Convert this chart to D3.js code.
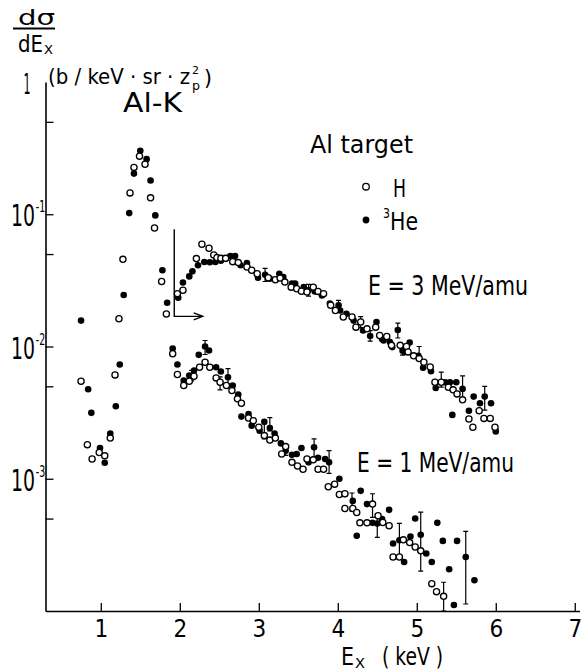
<!DOCTYPE html>
<html><head><meta charset="utf-8">
<script src="https://cdn.jsdelivr.net/npm/d3@7"></script>
<style>body{margin:0;background:#fff}svg{display:block}</style>
</head><body>
<svg id="chart" width="581" height="671"></svg>
<script>
// ---------- data (E in keV, cross section in b/keV·sr·zp²) ----------
const xTicks = [1, 2, 3, 4, 5, 6, 7];
const yMajor = [1, 1e-1, 1e-2, 1e-3];
const yMajorExp = ["", "-1", "-2", "-3"];
const yMinor = [0.5, 0.05, 0.005, 0.0005];

// H projectiles, E = 3 MeV/amu (open circles), incl. Al-K peak
const h3MeV = [[1.49,0.275],[1.56,0.239],[1.42,0.226],[1.37,0.145],[1.63,0.133],[1.68,0.0787],[1.28,0.0456],[1.77,0.031],[1.83,0.0176],[1.23,0.0162],
[1.97,0.0251],[2.04,0.0266],[2.21,0.0462],[2.28,0.0593],[2.37,0.0553],[2.43,0.0492],[2.47,0.0470],[2.52,0.0464],[2.58,0.0464],[2.67,0.0438],[2.74,0.0431],[2.85,0.0399],[2.91,0.0377],[2.98,0.0355],[3.12,0.0331],[3.21,0.0320],[3.27,0.0329],[3.33,0.0307],[3.41,0.0281],[3.48,0.0273],[3.54,0.0262],[3.61,0.0258],[3.69,0.0281],[3.75,0.0261],[3.82,0.0251],[3.91,0.0205],[3.97,0.0187],[4.07,0.0167],[4.18,0.0167],[4.23,0.0140],[4.29,0.0153],[4.37,0.0136],[4.48,0.0140],[4.53,0.0121],[4.62,0.0119],[4.68,0.0102],[4.79,0.0102],[4.87,0.0100],[4.89,0.0091],[4.96,0.0085],[5.03,0.0081],[5.09,0.0076],[5.17,0.0070],[5.23,0.00537],[5.31,0.00537],[5.40,0.00492],[5.46,0.00470],[5.51,0.00438],[5.58,0.00395],[5.79,0.00327],[5.66,0.00283],[5.71,0.00245],[5.85,0.00286],[5.93,0.00286],[5.99,0.00245]];

// 3He projectiles, E = 3 MeV/amu (filled circles), incl. Al-K peak
const he3MeV = [[1.50,0.302],[1.58,0.261],[1.42,0.203],[1.63,0.180],[1.36,0.102],[1.69,0.098],[1.78,0.0377],[1.29,0.0245],[1.84,0.0214],[0.75,0.0157],
[1.98,0.0234],[2.04,0.0305],[2.12,0.0339],[2.16,0.0370],[2.23,0.0411],[2.31,0.0435],[2.38,0.0433],[2.45,0.0435],[2.52,0.0445],[2.58,0.0460],[2.64,0.0483],[2.70,0.0483],[2.77,0.0411],[2.85,0.0428],[2.99,0.0331],[3.08,0.0349],[3.14,0.0326],[3.26,0.0355],[3.31,0.0335],[3.42,0.0299],[3.46,0.0299],[3.57,0.0281],[3.63,0.0266],[3.71,0.0261],[3.80,0.0243],[3.90,0.0211],[4.01,0.0205],[4.03,0.0187],[4.11,0.0177],[4.20,0.0157],[4.32,0.0132],[4.41,0.0120],[4.49,0.0153],[4.56,0.0114],[4.58,0.0111],[4.66,0.0108],[4.69,0.0099],[4.76,0.0133],[4.82,0.0093],[4.85,0.0091],[4.91,0.0107],[5.02,0.0085],[5.08,0.0069],[5.18,0.0065],[5.24,0.00486],[5.36,0.00537],[5.42,0.00537],[5.50,0.00537],[5.58,0.00478],[5.72,0.00418],[5.80,0.00372],[5.86,0.00418],[5.94,0.00372],[5.45,0.00304],[5.66,0.00327],[6.00,0.00228]];

// H projectiles, E = 1 MeV/amu (open circles)
const h1MeV = [[1.91,0.00881],[1.18,0.0061],[1.97,0.00614],[0.75,0.00546],[1.12,0.00203],[0.83,0.00181],[0.98,0.00158],[0.89,0.00141],[1.05,0.00149],
[2.05,0.00507],[2.12,0.00546],[2.18,0.00596],[2.25,0.00697],[2.32,0.00760],[2.38,0.00697],[2.46,0.00579],[2.51,0.00537],[2.59,0.00507],[2.66,0.00464],[2.73,0.00402],[2.78,0.00372],[2.87,0.00288],[2.93,0.00275],[3.00,0.00245],[3.07,0.00212],[3.14,0.00196],[3.21,0.00203],[3.29,0.00154],[3.34,0.00175],[3.42,0.00133],[3.49,0.00125],[3.56,0.00118],[3.61,0.00141],[3.69,0.00139],[3.75,0.00118],[3.82,0.00118],[3.88,0.00087],[3.96,0.00091],[4.02,0.00076],[4.09,0.00077],[4.09,0.000596],[4.19,0.000596],[4.24,0.000556],[4.28,0.000464],[4.37,0.000464],[4.44,0.000643],[4.51,0.000525],[4.57,0.000467],[4.65,0.000441],[4.70,0.000256],[4.78,0.000256],[4.83,0.000345],[4.91,0.000329],[4.98,0.000305],[5.05,0.000285],[5.19,0.000161],[5.25,0.000140],[5.34,0.000129]];

// 3He projectiles, E = 1 MeV/amu (filled circles)
const he1MeV = [[1.91,0.00966],[1.24,0.00731],[1.97,0.00731],[0.84,0.00475],[1.19,0.00353],[0.88,0.00315],[1.12,0.0022],[0.99,0.00171],[1.05,0.00132],
[2.05,0.00552],[2.12,0.00603],[2.18,0.00658],[2.24,0.00865],[2.32,0.0100],[2.37,0.00933],[2.46,0.00697],[2.52,0.00647],[2.61,0.00585],[2.67,0.00507],[2.74,0.00433],[2.78,0.00295],[2.87,0.00309],[2.91,0.00252],[3.01,0.00231],[3.07,0.00270],[3.14,0.00242],[3.20,0.00220],[3.28,0.00185],[3.34,0.00163],[3.42,0.00152],[3.48,0.00154],[3.54,0.00171],[3.63,0.00133],[3.70,0.00173],[3.75,0.00144],[3.84,0.00141],[3.89,0.00133],[4.02,0.00100],[4.09,0.000766],[4.19,0.00068],[4.29,0.00081],[4.37,0.000643],[4.65,0.000582],[4.44,0.000464],[4.50,0.000458],[4.56,0.000495],[4.24,0.00037],[4.70,0.000324],[4.78,0.000343],[4.84,0.000235],[4.92,0.000366],[4.98,0.0005],[5.05,0.000377],[5.12,0.000272],[5.19,0.000235],[5.26,0.000464],[5.33,0.000339],[5.51,0.000339],[5.41,0.000207],[5.47,0.000111],[5.62,0.000256],[5.73,0.000171]];

// error bars [E, low, high]
const errBars3MeV = [[3.08,0.031,0.039],[3.63,0.024,0.0295],[4.01,0.0187,0.0223],[4.29,0.0139,0.0168],[4.41,0.011,0.0132],[4.76,0.0116,0.015],[4.82,0.0086,0.0102],[5.03,0.0081,0.0100],[5.31,0.00493,0.0064],[5.58,0.0039,0.0060],[5.86,0.0033,0.0050]];
const errBars1MeV = [[2.15,0.0055,0.0066],[2.32,0.0087,0.0111],[2.51,0.0047,0.0059],[2.61,0.0052,0.0068],[3.07,0.0020,0.0026],[3.14,0.0023,0.0029],[3.34,0.0015,0.0018],[3.70,0.00146,0.0020],[3.89,0.0011,0.00163],[4.18,0.00057,0.00078],[4.44,0.00051,0.00077],[4.50,0.00036,0.00054],[4.78,0.00025,0.00046],[5.05,0.00020,0.00056],[5.34,0.0001,0.000165],[5.62,0.000113,0.0004]];

// threshold arrow annotation [E, value] corners
const arrowPts = [[1.93,0.077],[1.93,0.0169],[2.29,0.0169]];

// ---------- drawing ----------
const FONT = "'Liberation Sans Narrow','DejaVu Sans Condensed','Liberation Sans',sans-serif";
const svg = d3.select("#chart");
svg.append("rect").attr("width",581).attr("height",671).attr("fill","#fff");

const x = d3.scaleLinear().domain([0.3, 7.06]).range([45.5, 579.5]);
const y = d3.scaleLog().domain([1e-4, 1]).range([611, 82]);

function txt(s, px, py, size, len, anchor){
  const t = svg.append("text").attr("x",px).attr("y",py).attr("font-family",FONT)
    .attr("font-size",size).attr("fill","#000").text(s);
  if (anchor) t.attr("text-anchor",anchor);
  if (len) t.attr("textLength",len).attr("lengthAdjust","spacingAndGlyphs");
  return t;
}
// text made of parts: [string, size, width, dy, dx]
function rich(px, py, parts){
  const t = svg.append("text").attr("x",px).attr("y",py).attr("font-family",FONT).attr("fill","#000");
  parts.forEach(p=>{
    const s = t.append("tspan").attr("font-size",p[1]).attr("textLength",p[2])
      .attr("lengthAdjust","spacingAndGlyphs").text(p[0]);
    if (p[3]) s.attr("dy",p[3]);
    if (p[4]) s.attr("dx",p[4]);
  });
  return t;
}

// x axis
const gx = svg.append("g").attr("transform","translate(0,611)")
  .call(d3.axisBottom(x).tickValues(xTicks).tickSize(-8).tickSizeOuter(0).tickPadding(9).tickFormat(d3.format("d")));
gx.select(".domain").attr("stroke-width",1.6);
gx.selectAll(".tick line").attr("stroke-width",1.3);
gx.selectAll(".tick text").attr("font-family",FONT).attr("font-size",24).attr("fill","#000");

// y axis
const gy = svg.append("g").attr("transform","translate(45.5,0)")
  .call(d3.axisLeft(y).tickValues(yMajor.slice(1).concat(yMinor)).tickSize(-8).tickSizeOuter(0).tickFormat(""));
gy.select(".domain").attr("stroke-width",1.6);
gy.selectAll(".tick line").attr("stroke-width",1.3);

// y tick labels (horizontally condensed with a transform)
yMajor.forEach((v,i)=>{
  if (i===0) { txt("1", 27, y(v)+12, 29, 7, "middle"); return; }
  const t = svg.append("text").attr("font-family",FONT).attr("fill","#000")
    .attr("transform",`translate(11,${y(v)+12}) scale(0.7,1)`);
  t.append("tspan").attr("font-size",30).text("10");
  t.append("tspan").attr("font-size",15).attr("dy",-14).attr("dx",1).text(yMajorExp[i]);
});

// error bars
const errG = svg.append("g").attr("stroke","#000").attr("stroke-width",1.2).attr("fill","none");
errBars3MeV.concat(errBars1MeV).forEach(d=>{
  const px = x(d[0]), y0 = y(d[1]), y1 = y(d[2]);
  errG.append("path").attr("d",`M${px},${y0}V${y1}M${px-2.5},${y0}H${px+2.5}M${px-2.5},${y1}H${px+2.5}`);
});

// markers
const filled = he3MeV.concat(he1MeV);
const open = h3MeV.concat(h1MeV);
svg.append("g").selectAll("circle").data(filled).join("circle")
  .attr("cx",d=>x(d[0])).attr("cy",d=>y(d[1])).attr("r",3.3).attr("fill","#000");
svg.append("g").selectAll("circle").data(open).join("circle")
  .attr("cx",d=>x(d[0])).attr("cy",d=>y(d[1])).attr("r",3.1).attr("fill","#fff")
  .attr("stroke","#000").attr("stroke-width",1.3);

// arrow annotation
const ap = arrowPts.map(d=>[x(d[0]), y(d[1])]);
svg.append("path").attr("d", d3.line()(ap)).attr("fill","none").attr("stroke","#000").attr("stroke-width",1.4);
const tip = ap[2];
svg.append("path").attr("d",`M${tip[0]-9},${tip[1]-3.5}L${tip[0]},${tip[1]}L${tip[0]-9},${tip[1]+3.5}`)
  .attr("fill","none").attr("stroke","#000").attr("stroke-width",1.4);

// y-axis title
txt("dσ", 18, 25, 22, 37);
svg.append("line").attr("x1",13).attr("x2",55).attr("y1",28.5).attr("y2",28.5).attr("stroke","#000").attr("stroke-width",2);
rich(18, 52, [["dE",23,25,0],["X",13,9,2,1]]);
txt("(b / keV · sr · z", 48, 84, 22, 142);
txt("2", 192, 74, 11, 7);
txt("p", 192, 90, 13, 8);
txt(")", 204, 85, 22, 8);

// annotations
txt("Al-K", 123, 112, 27, 59);
txt("Al target", 310, 153, 25, 103);
svg.append("circle").attr("cx",366).attr("cy",186.7).attr("r",3.3).attr("fill","#fff").attr("stroke","#000").attr("stroke-width",1.3);
txt("H", 393, 197, 24, 13);
svg.append("circle").attr("cx",366).attr("cy",220).attr("r",3.4).attr("fill","#000");
rich(383, 230, [["3",14,7,-12],["He",24,28,12]]);
txt("E = 3 MeV/amu", 368, 295, 27, 160);
txt("E = 1 MeV/amu", 357, 472, 26, 157);

// x-axis title
rich(341, 665, [["E",24,13,0],["X",14,10,3,1],["( keV )",24,61,-3,17]]);
</script>
</body></html>
